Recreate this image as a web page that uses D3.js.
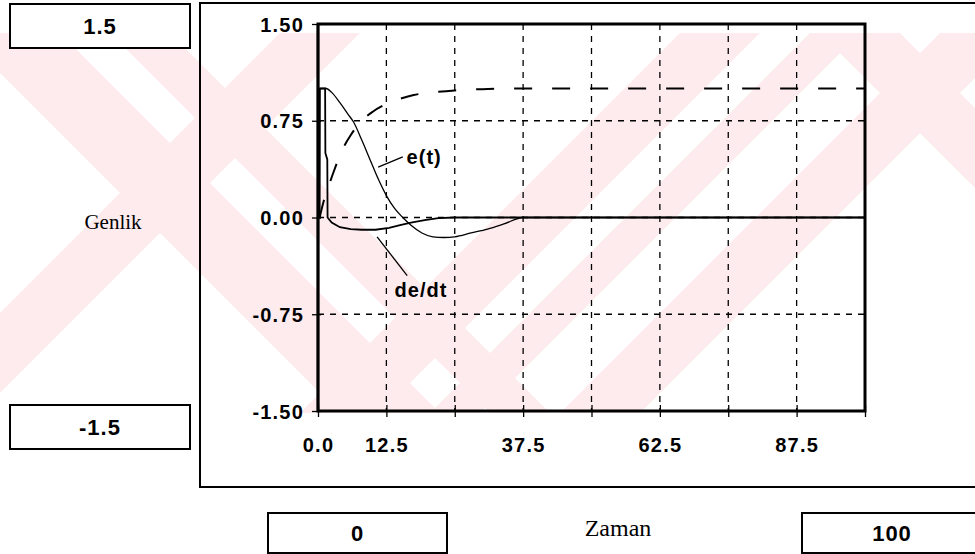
<!DOCTYPE html>
<html>
<head>
<meta charset="utf-8">
<script src="https://cdn.jsdelivr.net/npm/d3@7"></script>
<style>
  html, body { margin: 0; padding: 0; background: #fff; }
  svg { display: block; }
</style>
</head>
<body>
<svg id="chart" width="975" height="554"></svg>
<script>
// Axis ticks and their printed labels
const xTicks = [0, 12.5, 25, 37.5, 50, 62.5, 75, 87.5, 100];
const xTickLabels = ["0.0", "12.5", "", "37.5", "", "62.5", "", "87.5", ""];
const yTicks = [-1.5, -0.75, 0, 0.75, 1.5];
const yTickLabels = ["-1.50", "-0.75", "0.00", "0.75", "1.50"];

// Error signal e(t): [time, amplitude]
const errT = [
  [0.4, 1.0], [1.5, 1.0], [2.5, 0.97], [4, 0.89], [5.5, 0.8], [6.5, 0.74],
  [8, 0.6], [9.5, 0.45], [11, 0.3], [12.5, 0.17], [14, 0.07], [15.5, 0.0],
  [17, -0.06], [19, -0.12], [21, -0.15], [23, -0.155], [25, -0.15],
  [28, -0.12], [31, -0.09], [34, -0.05], [37.5, 0.0], [40, 0.0], [100, 0.0]
];

// Derivative de/dt: [time, amplitude]
const dErrT = [
  [0, 0], [0.3, 0], [0.35, 1.0], [1.3, 1.0], [1.35, 0.5], [1.7, 0.45],
  [1.75, 0.0], [2.5, -0.04], [4, -0.075], [6, -0.09], [8, -0.095],
  [10.5, -0.095], [13, -0.08], [15, -0.06], [17, -0.04], [19.5, -0.02],
  [22, -0.005], [25, 0], [100, 0]
];

// System output (dashed): [time, amplitude]
const outT = [
  [0.3, 0.0], [1, 0.12], [2, 0.25], [3, 0.37], [4, 0.48], [5, 0.57],
  [6, 0.64], [7, 0.7], [8, 0.75], [10, 0.82], [12.5, 0.88], [15, 0.92],
  [17.5, 0.95], [20, 0.965], [25, 0.985], [30, 0.995], [35, 1.0], [100, 1.0]
];

// Text of the range boxes and axis titles
const yRangeBoxes = ["1.5", "-1.5"];
const xRangeBoxes = ["0", "100"];
const yTitle = "Genlik";
const xTitle = "Zaman";

const svg = d3.select("#chart");

// ---- faint pink background emblem ----
svg.append("defs").append("clipPath").attr("id", "band")
  .append("rect").attr("x", 0).attr("y", 33).attr("width", 975).attr("height", 380);
const wmg = svg.append("g").attr("fill", "#fdebee").attr("clip-path", "url(#band)");
const stripes = [
  // "\" strokes
  "M-40,33 L60,33 L440,413 L340,413 Z",
  "M110,33 L170,33 L550,413 L490,413 Z",
  "M820,33 L900,33 L1280,413 L1200,413 Z",
  // "/" strokes
  "M300,413 L380,413 L760,33 L680,33 Z",
  "M430,413 L480,413 L860,33 L810,33 Z",
  "M560,413 L640,413 L1020,33 L940,33 Z",
  "M-100,413 L-20,413 L360,33 L280,33 Z"
];
wmg.selectAll("path").data(stripes).join("path").attr("d", d => d);

// ---- scales ----
const x = d3.scaleLinear().domain([0, 100]).range([318, 865]);
const y = d3.scaleLinear().domain([-1.5, 1.5]).range([411, 24]);

// outer panel frame (runs off the right edge)
svg.append("path")
  .attr("d", "M990,3 L200,3 L200,487 L990,487")
  .attr("fill", "none").attr("stroke", "#000").attr("stroke-width", 2);

// ---- grid ----
const grid = svg.append("g").attr("stroke", "#000").attr("stroke-width", 1.3)
  .attr("stroke-dasharray", "6,6");
grid.selectAll("line.v").data(xTicks.slice(1, -1)).join("line")
  .attr("class", "v")
  .attr("x1", d => x(d)).attr("x2", d => x(d))
  .attr("y1", y(1.5)).attr("y2", y(-1.5));
grid.selectAll("line.h").data(yTicks.slice(1, -1)).join("line")
  .attr("class", "h")
  .attr("x1", x(0)).attr("x2", x(100))
  .attr("y1", d => y(d)).attr("y2", d => y(d));

// ---- axes ----
const fontTick = "'Liberation Sans', Arial, sans-serif";
const xAxis = d3.axisBottom(x).tickValues(xTicks)
  .tickFormat((d, i) => xTickLabels[i]).tickSize(5).tickPadding(22);
const gx = svg.append("g").attr("transform", `translate(0,${y(-1.5)})`).call(xAxis);
gx.select(".domain").remove();
gx.selectAll(".tick line").attr("y1", -6).attr("y2", 6).attr("stroke-width", 1.3);
gx.selectAll(".tick text").attr("font-family", fontTick).attr("font-weight", "bold")
  .attr("font-size", 20).attr("letter-spacing", 1.2).attr("fill", "#000")
  .attr("dy", 0).attr("y", 41);

const yAxis = d3.axisLeft(y).tickValues(yTicks)
  .tickFormat((d, i) => yTickLabels[i]).tickSize(6).tickPadding(10);
const gy = svg.append("g").attr("transform", `translate(${x(0)},0)`).call(yAxis);
gy.select(".domain").remove();
gy.selectAll(".tick line").attr("x1", -6).attr("x2", 3).attr("stroke-width", 1.3);
gy.selectAll(".tick text").attr("font-family", fontTick).attr("font-weight", "bold")
  .attr("font-size", 20).attr("letter-spacing", 1.2).attr("fill", "#000")
  .attr("x", -14).attr("dy", "0.35em");

// plot box
svg.append("path")
  .attr("d", `M${x(0)},${y(1.5)} L${x(100)},${y(1.5)} L${x(100)},${y(-1.5)} L${x(0)},${y(-1.5)} Z`)
  .attr("fill", "none").attr("stroke", "#000").attr("stroke-width", 3);
svg.append("line").attr("x1", x(0)).attr("x2", x(0)).attr("y1", y(1.5)).attr("y2", y(-1.5))
  .attr("stroke", "#000").attr("stroke-width", 2.5);

// ---- curves ----
const line = d3.line().x(d => x(d[0])).y(d => y(d[1])).curve(d3.curveMonotoneX);
svg.append("path").datum(outT).attr("d", line).attr("fill", "none")
  .attr("stroke", "#000").attr("stroke-width", 2).attr("stroke-dasharray", "18,20");
svg.append("path").datum(errT).attr("d", line).attr("fill", "none")
  .attr("stroke", "#000").attr("stroke-width", 1.3);
svg.append("path").datum(dErrT).attr("d", d3.line().x(d => x(d[0])).y(d => y(d[1])).curve(d3.curveLinear))
  .attr("fill", "none").attr("stroke", "#000").attr("stroke-width", 1.8);

// ---- curve labels with leader lines ----
const ann = svg.append("g").attr("font-family", fontTick).attr("font-weight", "bold")
  .attr("font-size", 20).attr("fill", "#000");
svg.append("line").attr("x1", x(11)).attr("y1", y(0.39)).attr("x2", x(15.5)).attr("y2", y(0.47))
  .attr("stroke", "#000").attr("stroke-width", 1.3);
ann.append("text").attr("x", x(16.2)).attr("y", y(0.47)).attr("dy", "0.35em")
  .attr("letter-spacing", 1).text("e(t)");
svg.append("line").attr("x1", x(10.8)).attr("y1", y(-0.15)).attr("x2", x(16.3)).attr("y2", y(-0.45))
  .attr("stroke", "#000").attr("stroke-width", 1.3);
ann.append("text").attr("x", x(14)).attr("y", y(-0.56)).attr("dy", "0.35em")
  .attr("letter-spacing", 1).text("de/dt");

// ---- range boxes ----
const boxes = [
  { x: 10, y: 4, w: 180, h: 44, t: yRangeBoxes[0] },
  { x: 10, y: 405, w: 180, h: 44, t: yRangeBoxes[1] },
  { x: 268, y: 513, w: 179, h: 40, t: xRangeBoxes[0] },
  { x: 802, y: 513, w: 180, h: 40, t: xRangeBoxes[1] }
];
const bg = svg.selectAll("g.box").data(boxes).join("g").attr("class", "box");
bg.append("rect").attr("x", d => d.x).attr("y", d => d.y).attr("width", d => d.w)
  .attr("height", d => d.h).attr("fill", "#fff").attr("stroke", "#000").attr("stroke-width", 2);
bg.append("text").attr("x", d => d.x + d.w / 2).attr("y", d => d.y + d.h / 2)
  .attr("dy", "0.35em").attr("text-anchor", "middle")
  .attr("font-family", fontTick).attr("font-weight", "bold").attr("font-size", 22)
  .attr("letter-spacing", 1).text(d => d.t);

// ---- axis titles ----
svg.append("text").attr("x", 113).attr("y", 229).attr("text-anchor", "middle")
  .attr("font-family", "'Liberation Serif', 'Times New Roman', serif").attr("font-size", 21)
  .text(yTitle);
svg.append("text").attr("x", 618).attr("y", 536).attr("text-anchor", "middle")
  .attr("font-family", "'Liberation Serif', 'Times New Roman', serif").attr("font-size", 24)
  .text(xTitle);
</script>
</body>
</html>
